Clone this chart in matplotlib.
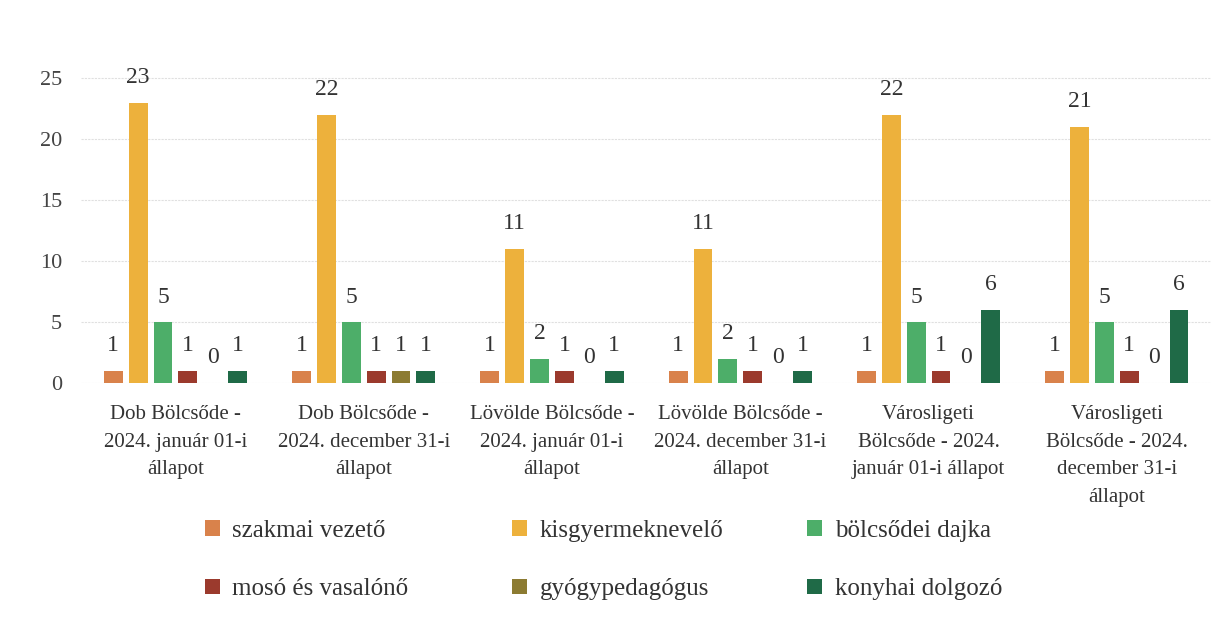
import numpy as np
import matplotlib.pyplot as plt

plt.rcParams['font.family'] = ['Liberation Serif', 'DejaVu Serif']

groups = [
    'Dob Bölcsőde -\n2024. január 01-i\nállapot',
    'Dob Bölcsőde -\n2024. december 31-i\nállapot',
    'Lövölde Bölcsőde -\n2024. január 01-i\nállapot',
    'Lövölde Bölcsőde -\n2024. december 31-i\nállapot',
    'Városligeti\nBölcsőde - 2024.\njanuár 01-i állapot',
    'Városligeti\nBölcsőde - 2024.\ndecember 31-i\nállapot',
]
series = ['szakmai vezető', 'kisgyermeknevelő', 'bölcsődei dajka',
          'mosó és vasalónő', 'gyógypedagógus', 'konyhai dolgozó']
szakmai = [1, 1, 1, 1, 1, 1]
kisgyermek = [23, 22, 11, 11, 22, 21]
dajka = [5, 5, 2, 2, 5, 5]
moso = [1, 1, 1, 1, 1, 1]
gyogy = [0, 1, 0, 0, 0, 0]
konyha = [1, 1, 1, 1, 6, 6]
values = [szakmai, kisgyermek, dajka, moso, gyogy, konyha]
colors = ['#D9824B', '#EDB13C', '#4DAE69', '#9B3A2D', '#8C7B32', '#1F6A47']

fig = plt.figure(figsize=(12.32, 6.26), dpi=100)
ax = fig.add_axes([0.066, 0.388, 0.917, 0.526])

x = np.arange(len(groups))
slot = 0.132
width = 0.1
handles = []
for i, (name, vals, c) in enumerate(zip(series, values, colors)):
    pos = x + (i - 2.5) * slot
    b = ax.bar(pos, vals, width, color=c, label=name, zorder=3)
    handles.append(b)
    for p, v in zip(pos, vals):
        ax.text(p, v + 1.2, str(v), ha='center', va='bottom',
                fontsize=17, color='#333333')

ax.set_ylim(0, 27)
ax.set_xlim(-0.5, len(groups) - 0.5)
ax.set_yticks([0, 5, 10, 15, 20, 25])
ax.set_xticks(x)
ax.set_xticklabels(groups, fontsize=15, color='#333333', linespacing=1.6)
ax.tick_params(axis='y', labelsize=16, colors='#444444', length=0, pad=14)
ax.tick_params(axis='x', length=0, pad=16)
ax.grid(axis='y', color='#e0e0e0', linestyle=(0, (2, 1)), linewidth=0.8, zorder=0)
for s in ax.spines.values():
    s.set_visible(False)

# legend: three columns, two rows
col_x = [0.158, 0.4075, 0.647]
for k, cx in enumerate(col_x):
    leg = fig.legend([handles[k], handles[k + 3]], [series[k], series[k + 3]],
                     loc='lower left', bbox_to_anchor=(cx, 0.025),
                     frameon=False, fontsize=18, handlelength=0.6,
                     handleheight=0.6, labelspacing=1.45, handletextpad=0.5,
                     labelcolor='#333333', borderaxespad=0)

fig.savefig('out.png', dpi=100)
